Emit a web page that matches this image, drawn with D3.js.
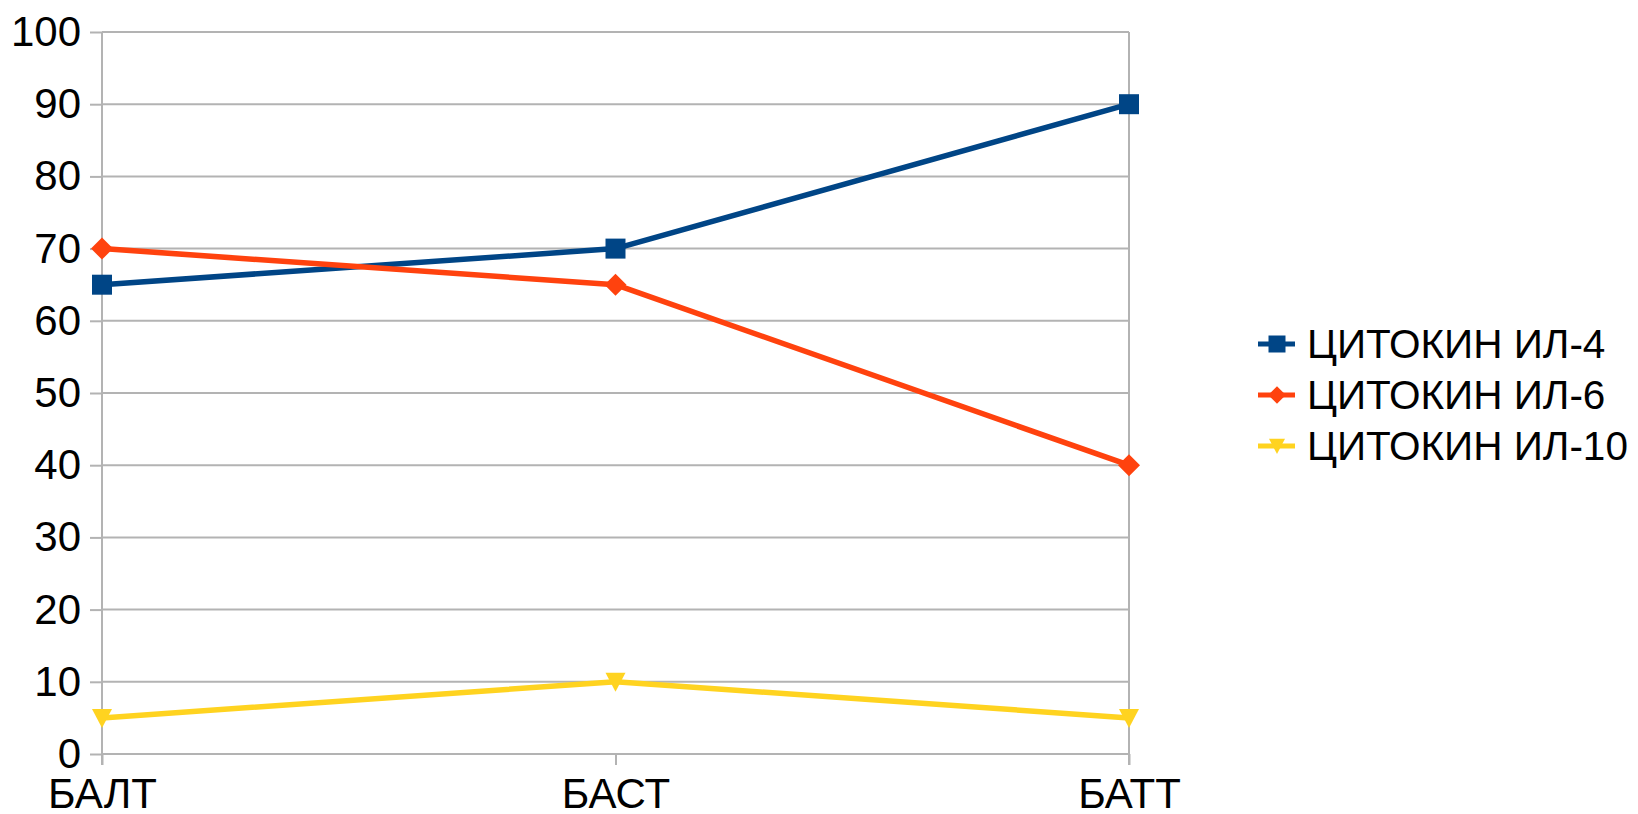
<!DOCTYPE html>
<html>
<head>
<meta charset="utf-8">
<script src="https://cdn.jsdelivr.net/npm/d3@7"></script>
<style>
  html, body { margin: 0; padding: 0; background: #fff; }
  svg { display: block; font-family: "Liberation Sans", Arial, sans-serif; }
</style>
</head>
<body>
<svg id="chart" width="1638" height="814"></svg>
<script>
// Groups on the category axis
const categories = ["БАЛТ", "БАСТ", "БАТТ"];

// Cytokin levels per group
const il4 = [65, 70, 90];
const il6 = [70, 65, 40];
const il10 = [5, 10, 5];

const seriesNames = ["ЦИТОКИН ИЛ-4", "ЦИТОКИН ИЛ-6", "ЦИТОКИН ИЛ-10"];
const yTicks = [0, 10, 20, 30, 40, 50, 60, 70, 80, 90, 100];

const series = [
  { name: seriesNames[0], values: il4, color: "#004586", symbol: "square" },
  { name: seriesNames[1], values: il6, color: "#ff420e", symbol: "diamond" },
  { name: seriesNames[2], values: il10, color: "#ffd320", symbol: "triangle" }
];

const svg = d3.select("#chart");
const plotLeft = 102, plotRight = 1129, plotTop = 32, plotBottom = 754;
const gridColor = "#b3b3b3";

const x = d3.scalePoint().domain(categories).range([plotLeft, plotRight]).padding(0);
const y = d3.scaleLinear().domain([0, 100]).range([plotBottom, plotTop]);

// Horizontal grid lines
svg.append("g").selectAll("line").data(yTicks).join("line")
  .attr("x1", plotLeft).attr("x2", plotRight)
  .attr("y1", d => y(d)).attr("y2", d => y(d))
  .attr("stroke", gridColor).attr("stroke-width", 2);

// Y axis
const yAxis = d3.axisLeft(y).tickValues(yTicks).tickSize(12).tickPadding(9);
const gy = svg.append("g").attr("transform", `translate(${plotLeft},0)`).call(yAxis);
gy.select(".domain").remove();
gy.selectAll(".tick line").attr("stroke", gridColor).attr("stroke-width", 2);
gy.selectAll(".tick text").attr("font-size", 42).attr("fill", "#000")
  .attr("font-family", "Liberation Sans, Arial, sans-serif");
svg.append("line").attr("x1", plotLeft).attr("x2", plotLeft).attr("y1", plotTop).attr("y2", plotBottom + 11)
  .attr("stroke", gridColor).attr("stroke-width", 2);

// X axis
const xAxis = d3.axisBottom(x).tickSize(11).tickPadding(13);
const gx = svg.append("g").attr("transform", `translate(0,${plotBottom})`).call(xAxis);
gx.select(".domain").remove();
gx.selectAll(".tick line").attr("stroke", gridColor).attr("stroke-width", 2);
gx.selectAll(".tick text").attr("font-size", 42).attr("fill", "#000")
  .attr("font-family", "Liberation Sans, Arial, sans-serif");

// Right edge line of the plot area
svg.append("line").attr("x1", plotRight).attr("x2", plotRight).attr("y1", plotTop).attr("y2", plotBottom + 11)
  .attr("stroke", gridColor).attr("stroke-width", 2);

const symbolPath = {
  square: d3.symbol().type(d3.symbolSquare).size(400)(),
  diamond: "M0,-11L11,0L0,11L-11,0Z",
  triangle: "M-10,-9L10,-9L0,10Z"
};

const line = d3.line().x((d, i) => x(categories[i])).y(d => y(d));

series.forEach(s => {
  const g = svg.append("g");
  g.append("path").datum(s.values)
    .attr("d", line)
    .attr("fill", "none").attr("stroke", s.color)
    .attr("stroke-width", 5.5).attr("stroke-linejoin", "round");
  g.selectAll("path.mark").data(s.values).join("path").attr("class", "mark")
    .attr("transform", (d, i) => `translate(${x(categories[i])},${y(d)})`)
    .attr("d", symbolPath[s.symbol])
    .attr("fill", s.color);
});

// Legend
const legend = svg.append("g").attr("transform", "translate(1258,344)");
series.forEach((s, i) => {
  const row = legend.append("g").attr("transform", `translate(0,${i * 51})`);
  row.append("line").attr("x1", 0).attr("x2", 37).attr("y1", 0).attr("y2", 0)
    .attr("stroke", s.color).attr("stroke-width", 5);
  const scale = s.symbol === "square" ? 0.85 : 0.8;
  row.append("path").attr("d", symbolPath[s.symbol])
    .attr("transform", `translate(19,0) scale(${scale})`).attr("fill", s.color);
  row.append("text").attr("x", 49).attr("y", 0).attr("dy", "0.355em")
    .attr("font-size", 40.5).attr("fill", "#000").text(s.name);
});
</script>
</body>
</html>
